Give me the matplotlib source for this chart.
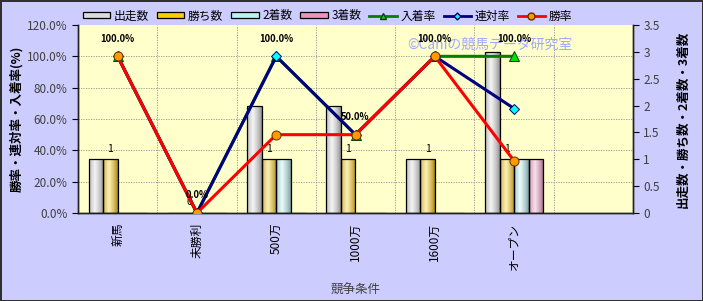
import numpy as np
import matplotlib
matplotlib.use("Agg")
import matplotlib.pyplot as plt
import matplotlib.colors as mcolors
from matplotlib.ticker import FixedLocator, FuncFormatter
from matplotlib.lines import Line2D

plt.rcParams['font.family'] = ['Noto Sans CJK JP', 'DejaVu Sans']

# データ
categories = ['新馬', '未勝利', '500万', '1000万', '1600万', 'オープン']
starts = [1, 0, 2, 2, 1, 3]
wins = [1, 0, 1, 1, 1, 1]
seconds = [0, 0, 1, 0, 0, 1]
thirds = [0, 0, 0, 0, 0, 1]
win_rate = [100.0, 0.0, 50.0, 50.0, 100.0, 33.3]
rentai_rate = [100.0, 0.0, 100.0, 50.0, 100.0, 66.7]
nyuchaku_rate = [100.0, 0.0, 100.0, 50.0, 100.0, 100.0]

BG_FIG = '#CCCCFF'
BG_PLOT = '#FFFFCC'
BAR_COLORS = ['#DCDCDC', '#FFCC00', '#B8F2F2', '#F290C0']
BAR_NAMES = ['出走数', '勝ち数', '2着数', '3着数']
N_SLOTS = 7


def gradiente(ax, rect, color):
    # barra con efecto cilindro: bordes oscuros, centro claro
    h = rect.get_height()
    if h <= 0:
        return
    base = np.array(mcolors.to_rgb(color))
    t = np.linspace(0, 1, 40)
    mix = np.clip(1 - np.abs(t - 0.4) / 0.6, 0, 1) ** 0.7
    light = base * 0.3 + 0.7
    dark = base * 0.62
    row = dark[None, :] * (1 - mix[:, None]) + light[None, :] * mix[:, None]
    img = row[None, :, :]
    x0 = rect.get_x()
    w = rect.get_width()
    im = ax.imshow(img, extent=(x0, x0 + w, 0, h), aspect='auto',
                   interpolation='bilinear', zorder=2.1)
    im.set_clip_path(rect)
    rect.set_facecolor('none')
    rect.set_zorder(2.2)


fig = plt.figure(figsize=(7.03, 3.01), dpi=100)
fig.patch.set_facecolor(BG_FIG)
fig.patch.set_edgecolor('#303030')
fig.patch.set_linewidth(2.0)

ax = fig.add_axes([78 / 703, 1 - 213 / 301, 555 / 703, 188 / 301])
ax.set_facecolor(BG_PLOT)
ax2 = ax.twinx()

x = np.arange(len(categories))
w = 0.183
series = [starts, wins, seconds, thirds]
for i, (vals, col) in enumerate(zip(series, BAR_COLORS)):
    bars = ax.bar(x + (i - 1.5) * w, vals, width=w, color=col,
                  edgecolor='black', linewidth=0.9, zorder=2)
    for r in bars:
        gradiente(ax, r, col)

# etiquetas de 勝ち数
for xi, v in zip(x, wins):
    ax.annotate(f'{v}', (xi - 0.5 * w, v), xytext=(0, 4), textcoords='offset points',
                ha='center', va='bottom', fontsize=7.5, color='black', zorder=5)

ax.text(0.743, 0.894, '©Caniの競馬データ研究室', transform=ax.transAxes,
        ha='center', va='center', fontsize=10, color='#A0A8FF', zorder=1)

ax.set_xlim(-0.5, N_SLOTS - 0.5)
ax.set_ylim(0, 3.5)
ax.yaxis.tick_right()
ax.yaxis.set_label_position('right')
ax.set_yticks(np.arange(0, 3.51, 0.5))
ax.yaxis.set_major_formatter(FuncFormatter(lambda v, p: f'{v:g}'))

# grilla horizontal segun eje izquierdo, debajo de las barras
left_ticks = np.arange(0, 121, 20)
ax.yaxis.set_minor_locator(FixedLocator(left_ticks[1:] * 3.5 / 120))
ax.xaxis.set_minor_locator(FixedLocator(np.arange(0.5, N_SLOTS - 0.5, 1)))
ax.grid(which='minor', axis='both', color='#909090', linestyle=(0, (1.5, 1.5)), linewidth=0.6)
ax.set_axisbelow(True)
ax.tick_params(axis='y', which='minor', length=0)
ax.tick_params(axis='x', which='minor', length=0)
ax.set_xticks(x)
ax.set_xticklabels(categories, rotation=90, fontsize=8.5)
ax.tick_params(axis='x', which='major', length=0, pad=7)
ax.tick_params(axis='y', which='major', labelsize=8.5, labelcolor='#404040',
               direction='out', length=4)

# lineas
ax2.plot(x, nyuchaku_rate, color='#008000', linewidth=2.2, marker='^', markersize=7,
         markerfacecolor='#00E000', markeredgecolor='#004000', markeredgewidth=0.7,
         zorder=3, label='入着率')
ax2.plot(x, rentai_rate, color='#000080', linewidth=2.2, marker='D', markersize=5,
         markerfacecolor='#00FFFF', markeredgecolor='#000060', markeredgewidth=0.7,
         zorder=4, label='連対率')
ax2.plot(x, win_rate, color='#FF0000', linewidth=2.2, marker='o', markersize=6.5,
         markerfacecolor='#FF9900', markeredgecolor='#603000', markeredgewidth=0.7,
         zorder=5, label='勝率')
for xi, v in zip(x, nyuchaku_rate):
    ax2.annotate(f'{v:.1f}%', (xi, v), xytext=(0, 9), textcoords='offset points',
                 ha='center', va='bottom', fontsize=6.8, fontweight='bold',
                 color='black', zorder=6)

ax2.set_ylim(0, 120)
ax2.yaxis.tick_left()
ax2.yaxis.set_label_position('left')
ax2.set_yticks(left_ticks)
ax2.yaxis.set_major_formatter(FuncFormatter(lambda v, p: f'{v:.1f}%'))
ax2.tick_params(axis='y', labelsize=8.5, labelcolor='#404040', direction='out', length=4)

for a in (ax, ax2):
    a.spines['top'].set_visible(False)
    for s in ('left', 'right', 'bottom'):
        a.spines[s].set_color('#202020')
        a.spines[s].set_linewidth(1.0)

ax2.set_ylabel('勝率・連対率・入着率(%)', fontsize=9, fontweight='bold', labelpad=3)
ax.set_ylabel('出走数・勝ち数・2着数・3着数', fontsize=9, fontweight='bold',
              rotation=90, labelpad=12)
ax.set_xlabel('競争条件', fontsize=9, color='#404040', labelpad=10)

# leyenda
handles = [plt.Rectangle((0, 0), 1, 1, facecolor=c, edgecolor='black', linewidth=0.9)
           for c in BAR_COLORS]
handles += [
    Line2D([], [], color='#008000', lw=2, marker='^', markersize=5,
           markerfacecolor='#00E000', markeredgecolor='#004000'),
    Line2D([], [], color='#000080', lw=2, marker='D', markersize=3.5,
           markerfacecolor='#00FFFF', markeredgecolor='#000060'),
    Line2D([], [], color='#FF0000', lw=2, marker='o', markersize=5,
           markerfacecolor='#FF9900', markeredgecolor='#603000'),
]
labels = BAR_NAMES + ['入着率', '連対率', '勝率']
fig.legend(handles, labels, loc='center left', bbox_to_anchor=(83 / 703, 1 - 16 / 301),
           ncol=7, frameon=False, fontsize=8.5, handlelength=2.3, handleheight=0.45,
           handletextpad=0.3, columnspacing=0.7, borderaxespad=0, borderpad=0)

fig.savefig('out.png', dpi=100, facecolor=fig.get_facecolor(), edgecolor=fig.get_edgecolor())
